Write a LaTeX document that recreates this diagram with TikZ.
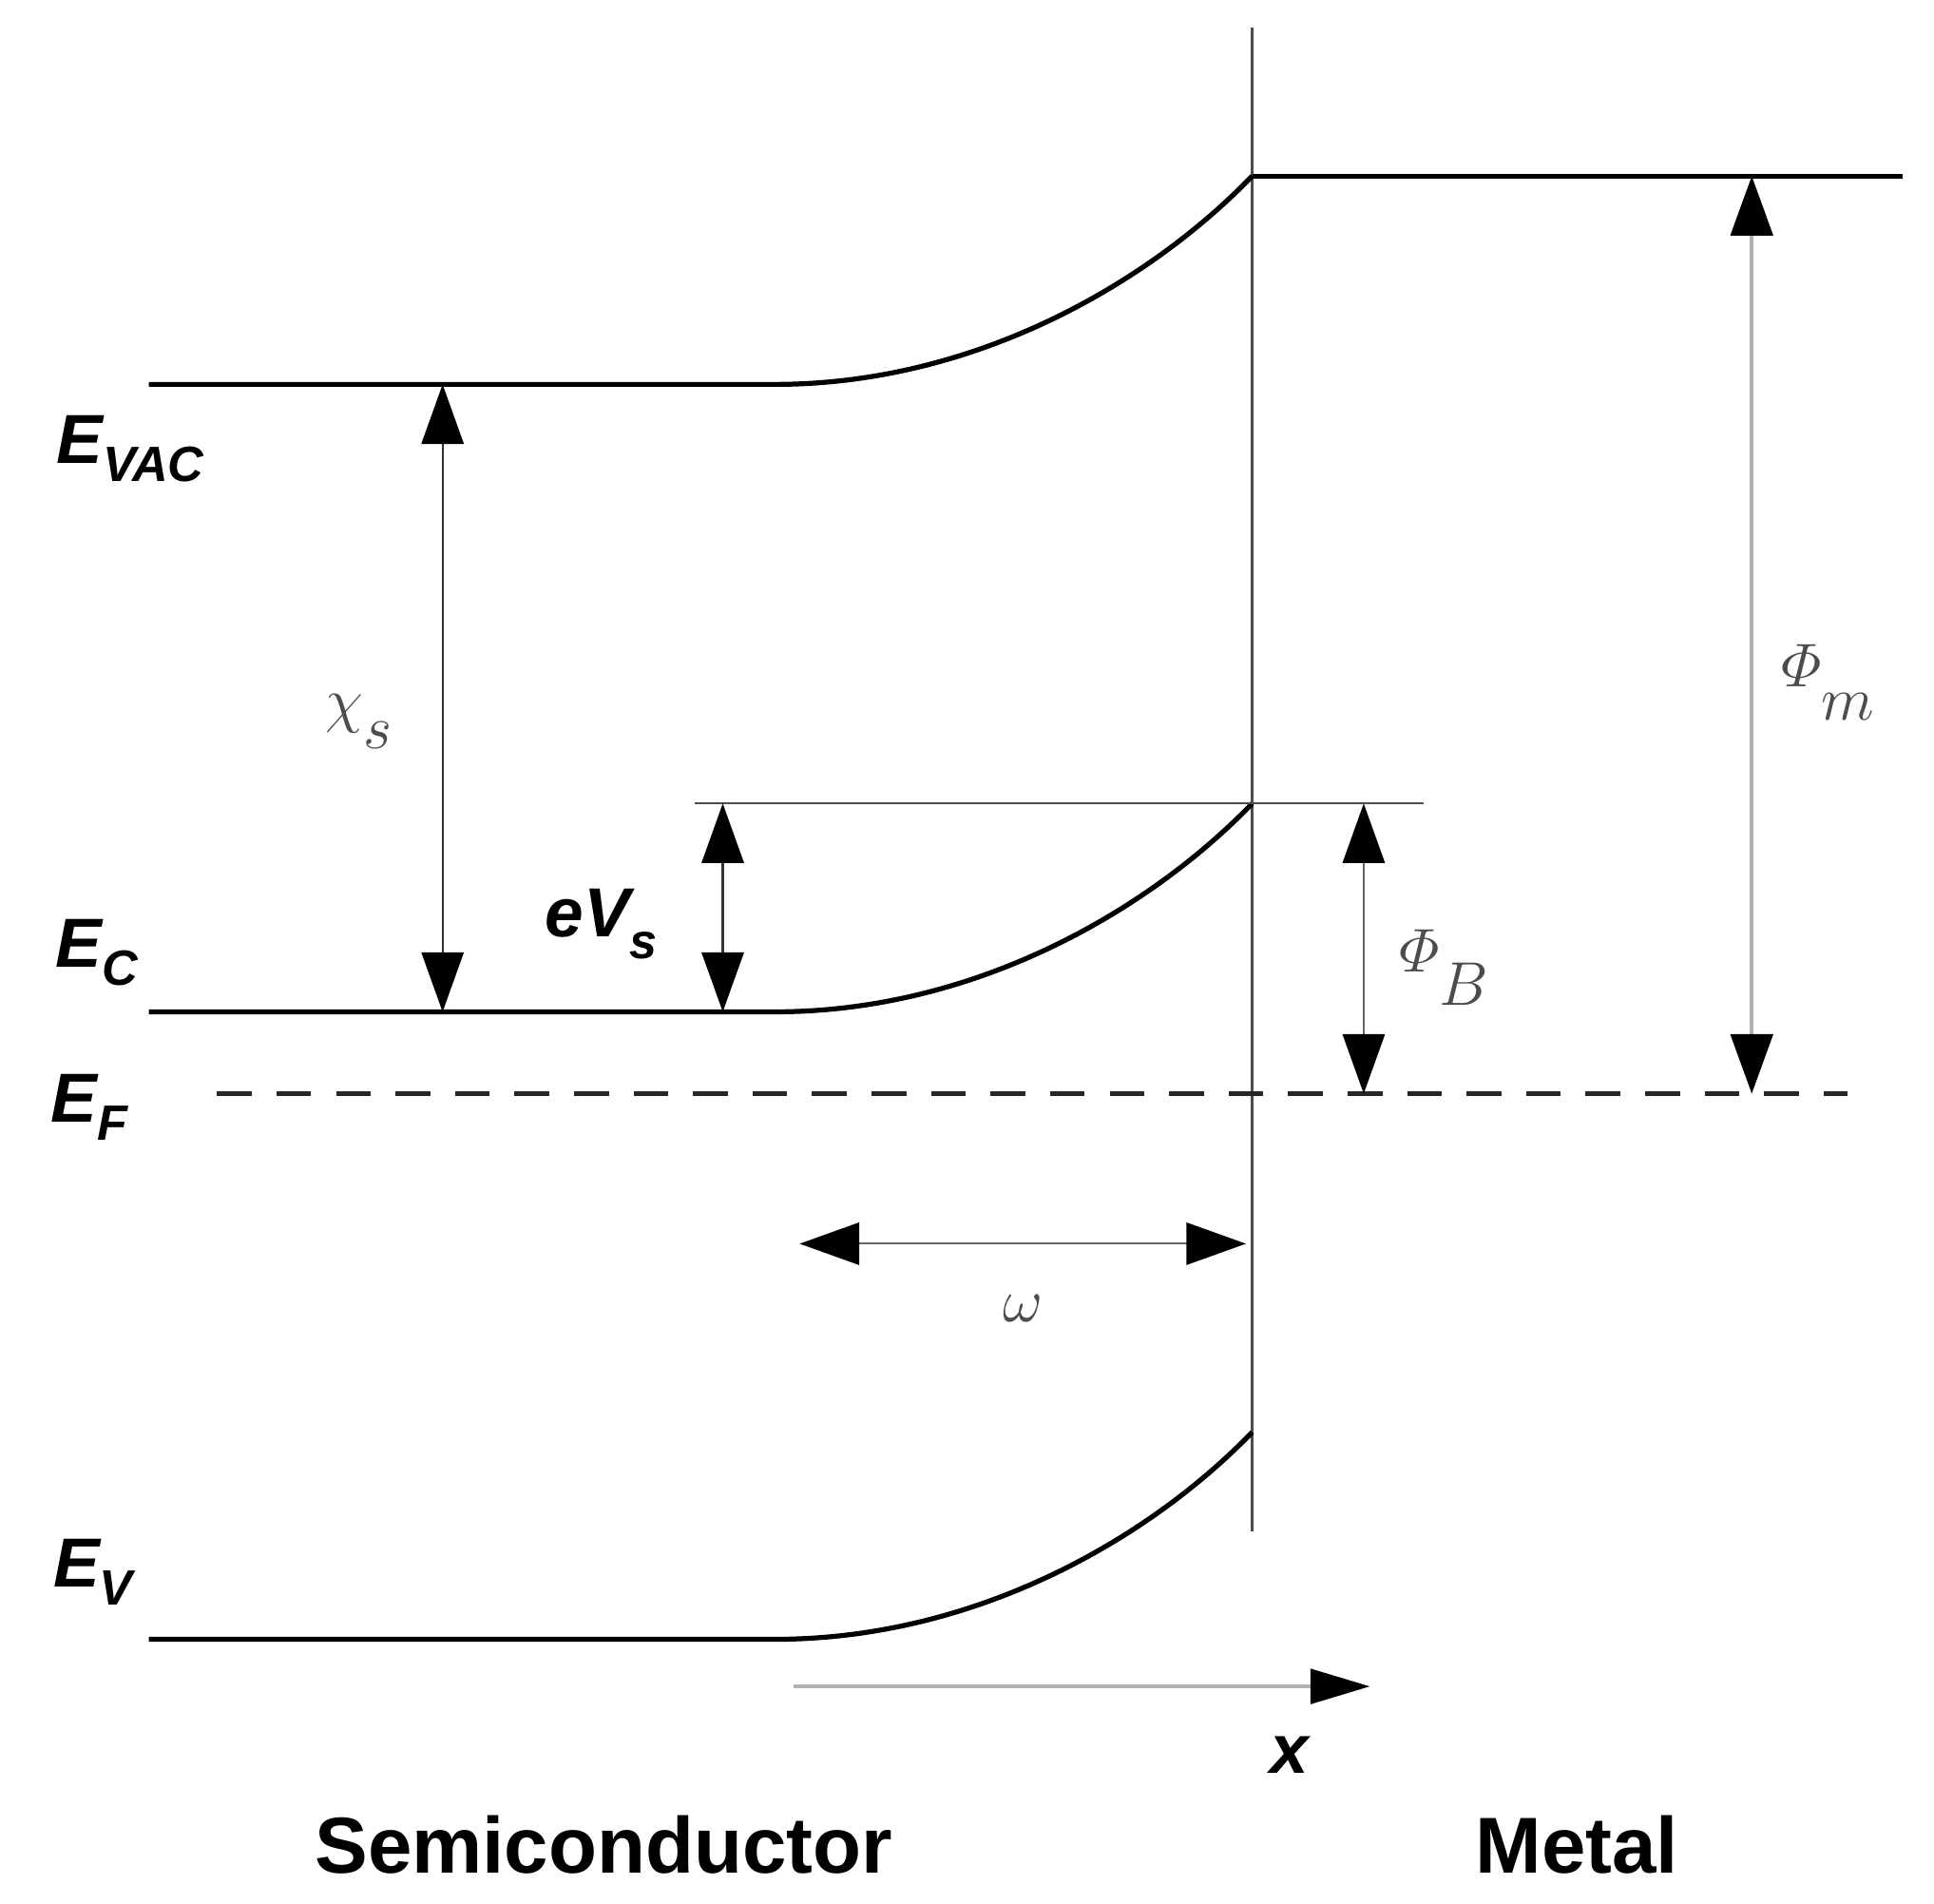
\documentclass[tikz,border=0pt]{standalone}
\usepackage{amsmath}
\usepackage{fontspec}
\setsansfont{Liberation Sans}
\usetikzlibrary{arrows.meta}
\begin{document}
\begin{tikzpicture}[x=0.5pt,y=-0.5pt,
 band/.style={line width=2pt,black},
 thin/.style={line width=0.8pt},
 dbl/.style={{Triangle[length=24pt,width=17pt,black]}-{Triangle[length=24pt,width=17pt,black]}},
 lab/.style={font=\sffamily\bfseries\itshape\fontsize{28}{30}\selectfont},
 big/.style={font=\sffamily\bfseries\fontsize{32}{34}\selectfont},
 gl/.style={font=\fontsize{28}{30}\selectfont, text=black!70}]
\useasboundingbox (0,0) rectangle (1560,1535);
% interface
\coordinate (i1) at (1010,22); \coordinate (i2) at (1010,1235);
\draw[line width=1.5pt,black!70] (i1) -- (i2);
% metal vacuum
\coordinate (m0) at (1010,142); \coordinate (m1) at (1535,142);
\draw[band] (m0) -- (m1);
% bands
\coordinate (va) at (120,310); \coordinate (vb) at (625,310);
\draw[band] (va) -- (vb) .. controls (790,310) and (930,225) .. (m0);
\coordinate (ca) at (120,816); \coordinate (cb) at (625,816); \coordinate (ct) at (1010,648);
\draw[band] (ca) -- (cb) .. controls (790,816) and (930,731) .. (ct);
\coordinate (wa) at (120,1322); \coordinate (wb) at (625,1322); \coordinate (wt) at (1010,1155);
\draw[band] (wa) -- (wb) .. controls (790,1322) and (930,1238) .. (wt);
% Fermi
\coordinate (f0) at (175,882); \coordinate (f1) at (1490,882);
\draw[line width=2pt,black!85,dash pattern=on 14pt off 10pt] (f0) -- (f1);
% barrier line
\coordinate (b0) at (560,648); \coordinate (b1) at (1148,648);
\draw[thin,black!70] (b0) -- (b1);
% arrows
\coordinate (x1) at (357,310); \coordinate (x2) at (357,816);
\draw[thin,dbl,black!80] (x1) -- (x2);
\coordinate (e1) at (583,648); \coordinate (e2) at (583,816);
\draw[thin,dbl,black!80] (e1) -- (e2);
\coordinate (p1) at (1100,648); \coordinate (p2) at (1100,882);
\draw[thin,dbl,black!60] (p1) -- (p2);
\coordinate (q1) at (1413,142); \coordinate (q2) at (1413,882);
\draw[line width=1.5pt,black!30,dbl] (q1) -- (q2);
\coordinate (w1) at (645,1003); \coordinate (w2) at (1005,1003);
\draw[thin,dbl,black!60] (w1) -- (w2);
\coordinate (a1) at (640,1360); \coordinate (a2) at (1105,1360);
\draw[line width=1.5pt,black!30,-{Triangle[length=24pt,width=14pt,black]}] (a1) -- (a2);
% labels
\node[lab] (lvac) at (105,362) {E\raisebox{-0.5ex}{\fontsize{20}{22}\selectfont VAC}};
\node[lab] (lc) at (78,768) {E\raisebox{-0.5ex}{\fontsize{20}{22}\selectfont C}};
\node[lab] (lf) at (72,893) {E\raisebox{-0.5ex}{\fontsize{20}{22}\selectfont F}};
\node[lab] (lv) at (75,1268) {E\raisebox{-0.5ex}{\fontsize{20}{22}\selectfont V}};
\node[gl] (lchi) at (290,582) {$\chi_{\raisebox{-0.6ex}{$s$}}$};
\node[lab] (leV) at (485,745) {eV\raisebox{-0.6ex}{\fontsize{20}{22}\selectfont s}};
\node[gl] (lpb) at (1165,780) {$\varPhi_{\raisebox{-0.8ex}{$B$}}$};
\node[gl] (lpm) at (1475,550) {$\varPhi_{\raisebox{-0.8ex}{$m$}}$};
\node[gl] (lw) at (825,1055) {$\omega$};
\node[lab] (lx) at (1040,1415) {x};
\node[big] (ls) at (487,1488) {Semiconductor};
\node[big] (lm) at (1272,1488) {Metal};
\end{tikzpicture}
\end{document}
